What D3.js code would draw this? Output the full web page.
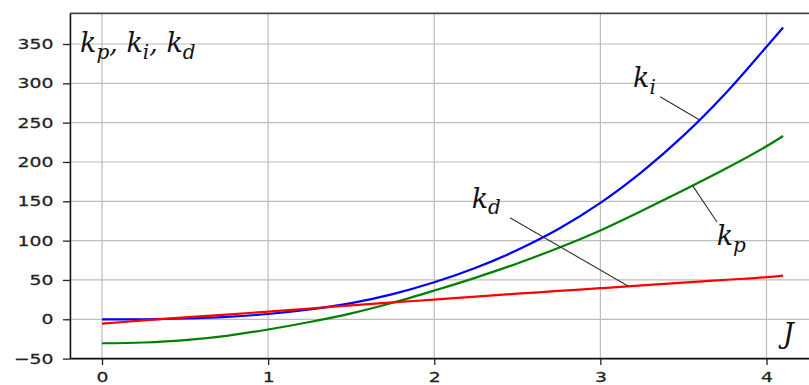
<!DOCTYPE html>
<html>
<head>
<meta charset="utf-8">
<script src="https://cdn.jsdelivr.net/npm/d3@7"></script>
<style>
  html, body { margin: 0; padding: 0; background: #fff; }
  svg { display: block; }
</style>
</head>
<body>
<svg id="chart" width="809" height="385"></svg>
<script>
// Controller gains versus J
const J  = [0, 0.25, 0.5, 0.75, 1, 1.25, 1.5, 1.75, 2, 2.25, 2.5, 2.75, 3, 3.25, 3.5, 3.75, 4, 4.1];
const kp = [-30.5, -29.5, -26.5, -21, -13, -3.5, 7.5, 21, 36.5, 53, 71, 91, 113, 138, 164, 191, 220, 233];
const ki = [0, 0, 1, 3, 6.7, 12.5, 20.5, 32, 47, 65.5, 88, 115, 148, 187.5, 233.5, 286.5, 346.5, 371];
const kd = [-5.6, -1.5, 2.5, 6, 9.7, 13.7, 17.6, 21.4, 25, 28.8, 32.5, 36, 39.5, 43, 46.5, 50, 53.5, 55.5];

const xTicks = [0, 1, 2, 3, 4];
const yTicks = [-50, 0, 50, 100, 150, 200, 250, 300, 350];

const series = [
  { name: "kp", values: kp, color: "#008000" },
  { name: "ki", values: ki, color: "#0000ff" },
  { name: "kd", values: kd, color: "#ff0000" }
];

const svg = d3.select("#chart");
const W = 809, H = 385;
svg.append("rect").attr("width", W).attr("height", H).attr("fill", "#fff");

const x = d3.scaleLinear().domain([0, 4]).range([102, 766.5]);
const y = d3.scaleLinear().domain([-50, 350]).range([358.6, 44]);

const xMin = -0.19, xMax = 4.31, yMax = 389;
const plotL = x(xMin), plotR = x(xMax), plotT = y(yMax), plotB = y(-50);

// grid
const grid = svg.append("g").attr("stroke", "#bcbcbc").attr("stroke-width", 1.2);
grid.selectAll("line.v").data(xTicks).join("line")
  .attr("x1", d => x(d)).attr("x2", d => x(d))
  .attr("y1", plotT).attr("y2", plotB);
grid.selectAll("line.h").data(yTicks).join("line")
  .attr("y1", d => y(d)).attr("y2", d => y(d))
  .attr("x1", plotL).attr("x2", plotR);

// curves
const line = d3.line()
  .x((d, i) => x(J[i]))
  .y(d => y(d))
  .curve(d3.curveCatmullRom.alpha(0.5));

svg.append("g").selectAll("path").data(series).join("path")
  .attr("d", s => line(s.values))
  .attr("fill", "none")
  .attr("stroke", s => s.color)
  .attr("stroke-width", 2.2);

// axes
const fmt = d => (d < 0 ? "\u2212" + Math.abs(d) : String(d));
const tickFont = "'DejaVu Sans', sans-serif";
const stretch = 1.3;

const gy = svg.append("g").attr("transform", `translate(${plotL},0)`)
  .call(d3.axisLeft(y).tickValues(yTicks).tickFormat(fmt).tickSize(7.5).tickPadding(9.5));
const gx = svg.append("g").attr("transform", `translate(0,${plotB})`)
  .call(d3.axisBottom(x).tickValues(xTicks).tickFormat(fmt).tickSize(6.5).tickPadding(7));

[gy, gx].forEach(g => {
  g.select(".domain").remove();
  g.selectAll(".tick line").attr("stroke", "#222").attr("stroke-width", 1.3);
  g.selectAll(".tick text")
    .attr("fill", "#222")
    .attr("stroke", "#222")
    .attr("stroke-width", 0.25)
    .style("font-family", tickFont)
    .style("font-size", "14.5px")
    .each(function () {
      const t = d3.select(this);
      const tx = +t.attr("x") || 0, ty = +t.attr("y") || 0;
      t.attr("x", 0).attr("y", 0)
        .attr("transform", `translate(${tx},${ty}) scale(${stretch},1)`);
    });
});

// spines
const spines = svg.append("g").attr("fill", "none");
spines.append("line").attr("x1", plotL).attr("x2", plotL).attr("y1", plotT).attr("y2", plotB)
  .attr("stroke", "#111").attr("stroke-width", 1.6);
spines.append("line").attr("x1", plotL).attr("x2", plotR).attr("y1", plotB).attr("y2", plotB)
  .attr("stroke", "#111").attr("stroke-width", 1.6);
spines.append("line").attr("x1", plotL).attr("x2", plotR).attr("y1", plotT).attr("y2", plotT)
  .attr("stroke", "#444").attr("stroke-width", 1.6);

// math-style labels
const mathFont = "'DejaVu Serif', serif";
function mathText(px, py, parts) {
  const t = svg.append("text")
    .attr("x", px).attr("y", py)
    .attr("fill", "#111")
    .style("font-family", mathFont)
    .style("font-style", "italic")
    .style("font-size", "27px");
  let shifted = false;
  parts.forEach(([s, sub]) => {
    const sp = t.append("tspan").text(s);
    if (sub && !shifted) { sp.attr("dy", 6.5).style("font-size", "20px"); shifted = true; }
    else if (sub) { sp.style("font-size", "20px"); }
    else if (shifted) { sp.attr("dy", -6.5); shifted = false; }
  });
  return t;
}

function valueAt(vals, j) {
  for (let i = 0; i < J.length - 1; i++) {
    if (j >= J[i] && j <= J[i + 1]) {
      const f = (j - J[i]) / (J[i + 1] - J[i]);
      return vals[i] + f * (vals[i + 1] - vals[i]);
    }
  }
  return vals[vals.length - 1];
}

// axis captions
mathText(x(-0.132), y(339.8), [["k"], ["p", 1], [", "], ["k"], ["i", 1], [", "], ["k"], ["d", 1]]);
mathText(x(4.1), y(-30), [["J"]]);

// curve annotations (label position and leader line start in data units, end on the curve)
const notes = [
  { vals: ki, at: 3.595, from: [3.36, 283], label: [3.197, 295.3], parts: [["k"], ["i", 1]] },
  { vals: kp, at: 3.555, from: [3.702, 123.7], label: [3.70, 94.4], parts: [["k"], ["p", 1]] },
  { vals: kd, at: 3.169, from: [2.456, 129.1], label: [2.225, 141.5], parts: [["k"], ["d", 1]] }
];
notes.forEach(n => {
  svg.append("line")
    .attr("x1", x(n.from[0])).attr("y1", y(n.from[1]))
    .attr("x2", x(n.at)).attr("y2", y(valueAt(n.vals, n.at)))
    .attr("stroke", "#333").attr("stroke-width", 1.1);
  mathText(x(n.label[0]), y(n.label[1]), n.parts);
});
</script>
</body>
</html>
